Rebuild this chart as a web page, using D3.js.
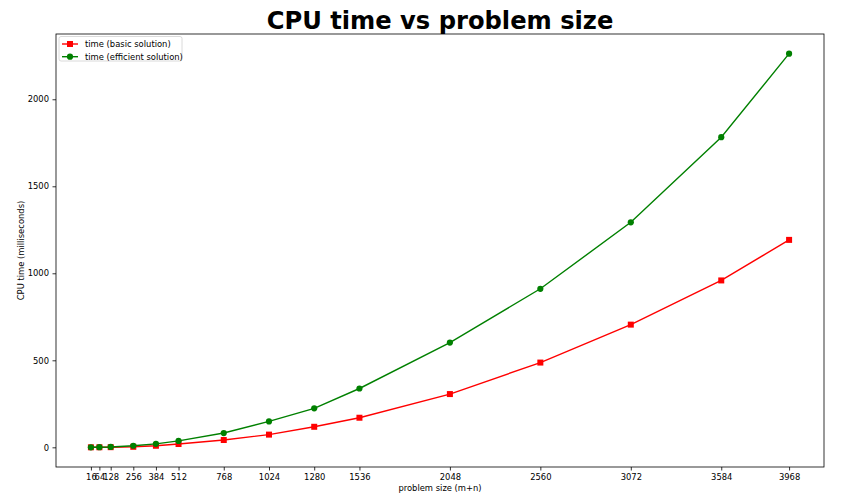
<!DOCTYPE html>
<html><head><meta charset="utf-8">
<script src="https://cdn.jsdelivr.net/npm/d3@7"></script>
<style>body{margin:0;background:#fff}svg{display:block}text{font-family:"DejaVu Sans",sans-serif}</style>
</head><body><svg id="c" width="852" height="504"></svg>
<script>
const sizes = [16, 64, 128, 256, 384, 512, 768, 1024, 1280, 1536, 2048, 2560, 3072, 3584, 3968];
const basicTime = [0.1, 0.3, 0.8, 3, 9, 19, 42, 73, 118, 170, 306, 487, 705, 959, 1192];
const efficientTime = [0.2, 0.6, 2, 9, 20, 37, 82, 149, 224, 338, 602, 911, 1293, 1782, 2262];
const yTicks = [0, 500, 1000, 1500, 2000];
const seriesNames = ["time (basic solution)", "time (efficient solution)"];

const svg = d3.select("#c");
const L = 56, R = 824, T = 34, B = 467;
const FS = 8.4;
const xPad = (3968 - 16) * 0.05;
const x = d3.scaleLinear().domain([16 - xPad, 3968 + xPad]).range([L, R]);
const ymax = d3.max(efficientTime), ymin = 0;
const yPad = (ymax - ymin) * 0.05;
const y = d3.scaleLinear().domain([ymin - yPad, ymax + yPad]).range([B, T]);

const xa = svg.append("g").attr("transform", `translate(0,${B})`)
  .call(d3.axisBottom(x).tickValues(sizes).tickFormat(d3.format("d")).tickSizeOuter(0).tickSize(3.5).tickPadding(3.5));
const ya = svg.append("g").attr("transform", `translate(${L},0)`)
  .call(d3.axisLeft(y).tickValues(yTicks).tickFormat(d3.format("d")).tickSizeOuter(0).tickSize(3.5).tickPadding(3.5));
[xa, ya].forEach(a => {
  a.select(".domain").remove();
  a.selectAll("text").attr("font-size", FS).attr("fill", "#000").attr("font-family", "DejaVu Sans");
  a.selectAll("line").attr("stroke", "#000").attr("stroke-width", 0.8);
});
svg.append("rect").attr("x", L).attr("y", T).attr("width", R - L).attr("height", B - T)
  .attr("fill", "none").attr("stroke", "#000").attr("stroke-width", 0.8);

const series = [
  {name: seriesNames[0], vals: basicTime, color: "#ff0000", marker: "square"},
  {name: seriesNames[1], vals: efficientTime, color: "#008000", marker: "circle"}
];
const line = d3.line().x(d => x(d[0])).y(d => y(d[1]));
series.forEach(s => {
  const pts = sizes.map((v, i) => [v, s.vals[i]]);
  svg.append("path").datum(pts).attr("d", line).attr("fill", "none")
    .attr("stroke", s.color).attr("stroke-width", 1.4);
  const g = svg.append("g");
  if (s.marker === "square") {
    g.selectAll("rect").data(pts).join("rect")
      .attr("x", d => x(d[0]) - 3).attr("y", d => y(d[1]) - 3)
      .attr("width", 6).attr("height", 6).attr("fill", s.color);
  } else {
    g.selectAll("circle").data(pts).join("circle")
      .attr("cx", d => x(d[0])).attr("cy", d => y(d[1])).attr("r", 3.1).attr("fill", s.color);
  }
});

svg.append("text").attr("x", (L + R) / 2).attr("y", 29).attr("text-anchor", "middle")
  .attr("font-size", 24.2).attr("font-weight", "bold").text("CPU time vs problem size");
svg.append("text").attr("x", (L + R) / 2).attr("y", 491).attr("text-anchor", "middle")
  .attr("font-size", FS).text("problem size (m+n)");
svg.append("text").attr("transform", `translate(24,${(T + B) / 2}) rotate(-90)`).attr("text-anchor", "middle")
  .attr("font-size", FS).text("CPU time (milliseconds)");

const lg = svg.append("g").attr("transform", `translate(59,36.5)`);
lg.append("rect").attr("width", 123).attr("height", 24.5).attr("rx", 2)
  .attr("fill", "#fff").attr("fill-opacity", 0.8).attr("stroke", "#d0d0d0").attr("stroke-width", 0.8);
series.forEach((s, i) => {
  const yy = 7.5 + i * 12.7;
  lg.append("line").attr("x1", 3).attr("x2", 19).attr("y1", yy).attr("y2", yy)
    .attr("stroke", s.color).attr("stroke-width", 1.4);
  if (s.marker === "square") lg.append("rect").attr("x", 8).attr("y", yy - 3).attr("width", 6).attr("height", 6).attr("fill", s.color);
  else lg.append("circle").attr("cx", 11).attr("cy", yy).attr("r", 3.1).attr("fill", s.color);
  lg.append("text").attr("x", 26).attr("y", yy + 3).attr("font-size", FS).text(s.name);
});
</script></body></html>
